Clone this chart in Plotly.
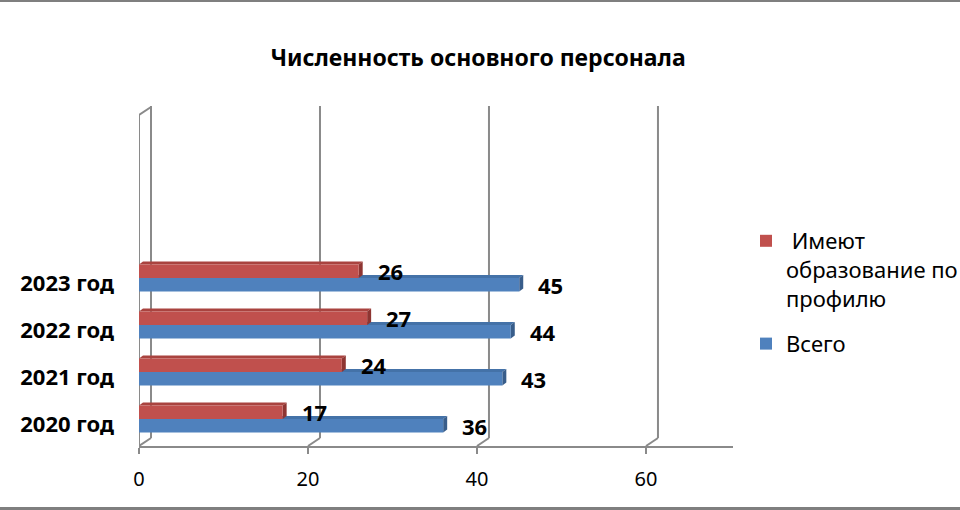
import plotly.graph_objects as go

# ---- data ----
categories = ["2020 год", "2021 год", "2022 год", "2023 год"]
total = [36, 43, 44, 45]            # Всего
profile = [17, 24, 27, 26]          # Имеют образование по профилю
x_ticks = [0, 20, 40, 60]
x_tick_labels = ["0", "20", "40", "60"]
name_profile = " Имеют<br>образование по<br>профилю"
name_total = "Всего"
title_text = "Численность основного персонала"

# ---- geometry (pixels) ----
W, H = 960, 510
L, R, T, B = 139, 227, 106, 64
plot_w = W - L - R
plot_h = H - T - B
x_max = 70.3
px_x = plot_w / x_max
px_y = 47.0
y_min = -0.574
y_max = y_min + plot_h / px_y
front_top = y_min + (446 - 115) / px_y

bar_w = 13.5 / px_y
off = bar_w / 2
wdx, wdy = 12 / px_x, 8 / px_y      # wall depth
bdx, bdy = 4 / px_x, 3 / px_y       # bar depth

RED, BLUE = "#C0504D", "#4F81BD"
RED_TOP, RED_END = "#A9433F", "#8E3532"
BLUE_TOP, BLUE_END = "#4472A8", "#385D8A"
GRID = "#8A8A8A"

def px2paper_x(px):
    return (px - L) / plot_w

def px2paper_y(py):
    return (H - B - py) / plot_h

idx = list(range(len(categories)))

fig = go.Figure()
fig.add_trace(go.Bar(y=idx, x=total, orientation="h", name=name_total,
                     marker=dict(color=BLUE, line=dict(width=0)),
                     legendgroup="b", legendrank=2, hoverinfo="x"))
fig.add_trace(go.Bar(y=idx, x=profile, orientation="h", name=name_profile,
                     marker=dict(color=RED, line=dict(width=0)),
                     legendgroup="a", legendrank=1, hoverinfo="x"))

shapes = []
def line(x0, y0, x1, y1, w=2):
    shapes.append(dict(type="line", xref="x", yref="y", x0=x0, y0=y0, x1=x1, y1=y1,
                       line=dict(color=GRID, width=w), layer="below"))

# left wall
line(0, y_min, 0, front_top)
line(0, front_top, wdx, front_top + wdy)
# back wall gridlines
for v in x_ticks:
    line(v + wdx, y_min + wdy, v + wdx, y_max)
    line(v, y_min, v + wdx, y_min + wdy)

def poly(pts, color):
    path = "M " + " L ".join(f"{x},{y}" for x, y in pts) + " Z"
    shapes.append(dict(type="path", xref="x", yref="y", path=path,
                       fillcolor=color, line=dict(width=0), layer="below"))

for vals, sign, top_c, end_c in ((total, -1, BLUE_TOP, BLUE_END), (profile, 1, RED_TOP, RED_END)):
    for i, v in enumerate(vals):
        c = i + sign * off
        t, b = c + off, c - off
        poly([(0, t), (bdx, t + bdy), (v + bdx, t + bdy), (v, t)], top_c)
        poly([(v, b), (v, t), (v + bdx, t + bdy), (v + bdx, b + bdy)], end_c)

# outer border lines (top / bottom of the picture)
for py, w in ((1.0, 2), (508.5, 3)):
    shapes.append(dict(type="line", xref="paper", yref="paper",
                       x0=px2paper_x(0), x1=px2paper_x(W), y0=px2paper_y(py), y1=px2paper_y(py),
                       line=dict(color="#7F7F7F", width=w)))

annotations = []
for vals, sign in ((profile, 1), (total, -1)):
    for i, v in enumerate(vals):
        annotations.append(dict(x=v, y=i + sign * off, xref="x", yref="y", text=str(v),
                                showarrow=False, xanchor="left", yanchor="middle",
                                xshift=17, yshift=0,
                                font=dict(family="Noto Sans", size=22, color="black", weight="bold")))

fig.update_layout(
    width=W, height=H,
    margin=dict(l=L, r=R, t=T, b=B, pad=0, autoexpand=False),
    paper_bgcolor="white", plot_bgcolor="white",
    barmode="group", bargap=1 - 2 * bar_w, bargroupgap=0,
    title=dict(text=title_text, x=478 / W, xanchor="center", y=1 - 58 / H, yanchor="middle",
               font=dict(family="Noto Sans", size=23, color="black", weight="bold")),
    xaxis=dict(range=[0, x_max], tickvals=x_ticks, ticktext=x_tick_labels,
               showgrid=False, zeroline=False, showline=True, linecolor=GRID, linewidth=2,
               ticks="outside", ticklen=6, tickcolor=GRID, tickwidth=2,
               ticklabelstandoff=8,
               tickfont=dict(family="Noto Sans", size=20, color="black")),
    yaxis=dict(range=[y_min, y_max], tickvals=idx, ticktext=categories,
               showgrid=False, zeroline=False, showline=False, ticks="",
               ticklabelstandoff=24, ticklabelshift=5,
               tickfont=dict(family="Noto Sans", size=22, color="black", weight="bold")),
    legend=dict(x=px2paper_x(746), xanchor="left", y=px2paper_y(220), yanchor="top",
                traceorder="grouped", tracegroupgap=14, valign="top",
                font=dict(family="Noto Sans", size=22, color="black"),
                bgcolor="rgba(0,0,0,0)"),
    shapes=shapes, annotations=annotations,
    showlegend=True,
)

fig.write_html("out.html", config={"displayModeBar": False},
               post_script="document.body.style.margin='0';")
